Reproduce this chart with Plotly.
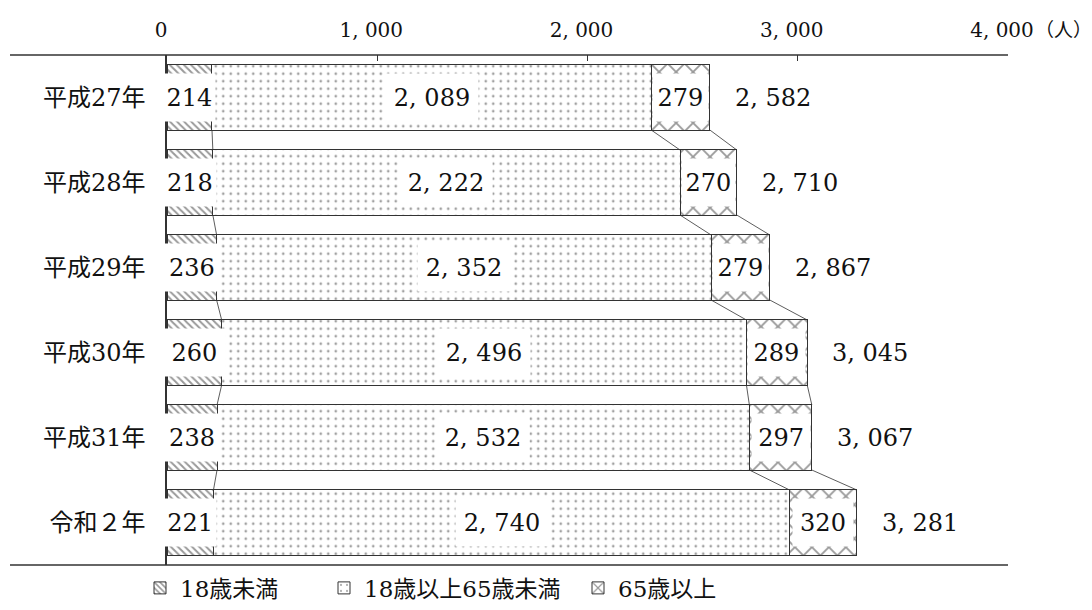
import plotly.graph_objects as go

categories = ["平成27年", "平成28年", "平成29年", "平成30年", "平成31年", "令和２年"]
under18 = [214, 218, 236, 260, 238, 221]
age18_64 = [2089, 2222, 2352, 2496, 2532, 2740]
over65 = [279, 270, 279, 289, 297, 320]
totals = [2582, 2710, 2867, 3045, 3067, 3281]
series_names = ["18歳未満", "18歳以上65歳未満", "65歳以上"]
tick_vals = [0, 1000, 2000, 3000, 4000]
tick_text = ["0", "1, 000", "2, 000", "3, 000", "4, 000"]
unit_label = "（人）"

def fmt(v):
    return f"{v:,}".replace(",", ", ")

# page body adds an 8px offset; margins are set so the plot lands where the reference has it
W, H = 1092, 610
ML, MR, MT, MB = 159, 92, 47, 53
PW = W - ML - MR
XMAX = 4000
BARW = 0.765
FONT = "DejaVu Serif, Noto Sans CJK JP, serif"
INK = "#111111"
EDGE = "#333333"

fig = go.Figure()
patterns = [
    dict(shape="\\", fgcolor="#333333", bgcolor="white", size=5, solidity=0.4),
    dict(shape=".", fgcolor="#444444", bgcolor="white", size=7.5, solidity=0.1),
    dict(shape="x", fgcolor="#333333", bgcolor="white", size=12, solidity=0.28),
]
legends = ["legend", "legend2", "legend3"]
for vals, name, pat, lg in zip([under18, age18_64, over65], series_names, patterns, legends):
    fig.add_trace(go.Bar(
        y=categories, x=vals, orientation="h", name=name, width=BARW,
        marker=dict(color="white", pattern=pat, line=dict(color=EDGE, width=1)),
        legend=lg, hoverinfo="skip",
    ))

px_per = PW / XMAX
ann = []
for i, cat in enumerate(categories):
    a, b, c = under18[i], age18_64[i], over65[i]
    ann.append(dict(x=a / 2, y=cat, xref="x", yref="y", text=str(a), showarrow=False,
                    bgcolor="white", width=max(a * px_per + 4, 48), height=45,
                    font=dict(family=FONT, size=24, color=INK)))
    ann.append(dict(x=a + b / 2, y=cat, xref="x", yref="y", text=fmt(b), showarrow=False,
                    bgcolor="white", width=90, height=45,
                    font=dict(family=FONT, size=24, color=INK)))
    ann.append(dict(x=a + b + c / 2, y=cat, xref="x", yref="y", text=str(c), showarrow=False,
                    bgcolor="white", width=min(c * px_per - 6, 58), height=45,
                    font=dict(family=FONT, size=24, color=INK)))
    ann.append(dict(x=totals[i], y=cat, xref="x", yref="y", text=fmt(totals[i]), showarrow=False,
                    xanchor="left", xshift=23,
                    font=dict(family=FONT, size=24, color=INK)))

ann.append(dict(x=1, y=1, xref="paper", yref="paper", text=unit_label, showarrow=False,
                xanchor="left", yanchor="middle", xshift=25, yshift=25,
                font=dict(family=FONT, size=19, color=INK)))

shapes = []
# connector lines between stacked bars
for i in range(len(categories) - 1):
    b0 = [under18[i], under18[i] + age18_64[i], totals[i]]
    b1 = [under18[i + 1], under18[i + 1] + age18_64[i + 1], totals[i + 1]]
    for x0, x1 in zip(b0, b1):
        shapes.append(dict(type="line", xref="x", yref="y", x0=x0, x1=x1,
                           y0=i + BARW / 2, y1=i + 1 - BARW / 2,
                           line=dict(color=EDGE, width=0.8), layer="above"))
# frame lines extending to the left
left_paper = (2 - ML) / PW
for yy in [0, 1]:
    shapes.append(dict(type="line", xref="paper", yref="paper", x0=left_paper, x1=1,
                       y0=yy, y1=yy, line=dict(color=EDGE, width=1.5)))

leg_common = dict(orientation="h", y=-0.045, xanchor="left", yanchor="middle",
                  font=dict(family=FONT, size=23, color=INK), bgcolor="rgba(0,0,0,0)")
fig.update_layout(
    width=W, height=H,
    margin=dict(l=ML, r=MR, t=MT, b=MB, autoexpand=False),
    paper_bgcolor="white", plot_bgcolor="white",
    barmode="stack", bargap=1 - BARW,
    font=dict(family=FONT, size=22, color=INK),
    annotations=ann, shapes=shapes,
    xaxis=dict(side="top", range=[0, XMAX], tickvals=tick_vals, ticktext=tick_text,
               ticks="inside", ticklen=6, tickcolor=EDGE, showgrid=False, zeroline=False,
               showline=False, tickfont=dict(family=FONT, size=20, color=INK),
               ticklabelshift=-6, ticklabelstandoff=13, automargin=False, fixedrange=True),
    yaxis=dict(autorange="reversed", showline=True, linecolor=EDGE, linewidth=1.5,
               ticks="", showgrid=False, zeroline=False,
               tickfont=dict(family=FONT, size=24, color=INK), ticklabelstandoff=15,
               automargin=False, fixedrange=True),
    legend=dict(x=(132 - ML) / PW, **leg_common),
    legend2=dict(x=(316 - ML) / PW, **leg_common),
    legend3=dict(x=(570 - ML) / PW, **leg_common),
    showlegend=True,
)

fig.write_html("out.html")
